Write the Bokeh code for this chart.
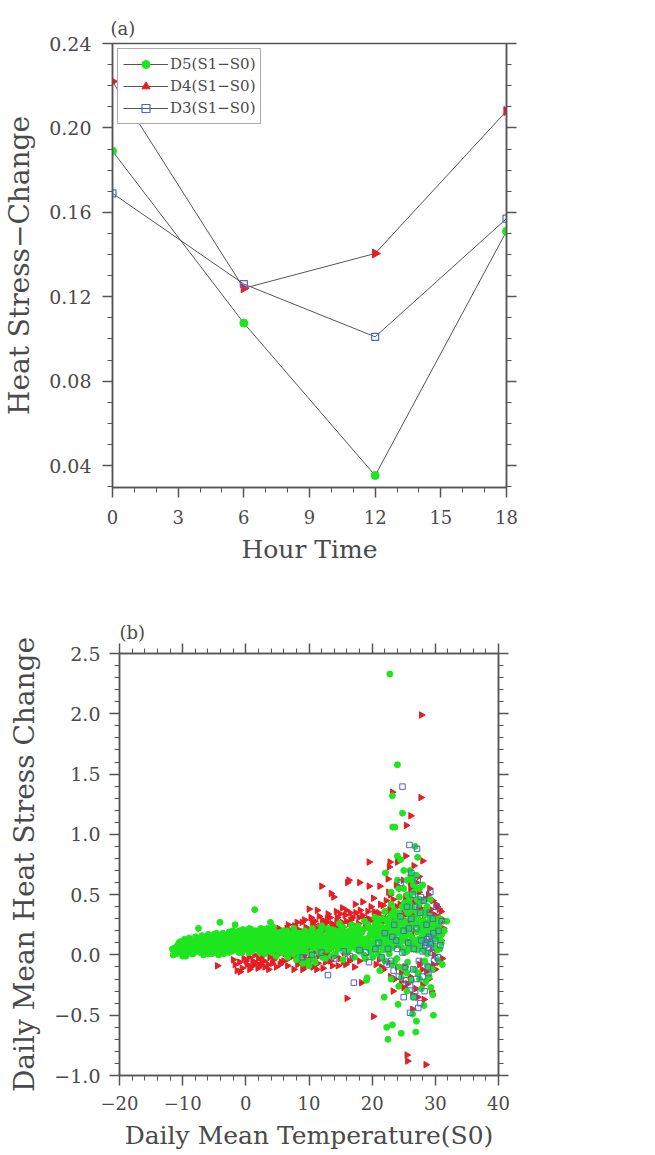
import numpy as np
from bokeh.plotting import figure
from bokeh.models import (FixedTicker, LinearAxis, Legend, LegendItem,
                          CustomJSTickFormatter, Range1d)
from bokeh.layouts import column, row
from bokeh.embed import file_html
from bokeh.resources import INLINE

FONT = "DejaVu Serif"
TXT = "#4a4a4a"
AX = "#555555"
GREEN = "#1ee61e"
RED = "#e61e24"
BLUE = "#4f63d6"

# ---------------- panel (a) data ----------------
hours = [0, 6, 12, 18]
d5_line = [0.189, 0.1075, 0.0353, 0.151]
d4_line = [0.222, 0.124, 0.1405, 0.208]
d3_line = [0.169, 0.126, 0.101, 0.157]

hour_ticks = [0, 3, 6, 9, 12, 15, 18]
hour_labels = ["0", "3", "6", "9", "12", "15", "18"]
hs_ticks = [0.04, 0.08, 0.12, 0.16, 0.20, 0.24]
hs_labels = ["0.04", "0.08", "0.12", "0.16", "0.20", "0.24"]

# ---------------- panel (b) data ----------------
temp_ticks = [-20, -10, 0, 10, 20, 30, 40]
temp_labels = ["\u221220", "\u221210", "0", "10", "20", "30", "40"]
chg_ticks = [-1.0, -0.5, 0.0, 0.5, 1.0, 1.5, 2.0, 2.5]
chg_labels = ["\u22121.0", "\u22120.5", "0.0", "0.5", "1.0", "1.5", "2.0", "2.5"]

d5_x = [
    -11.6, -11.4, -11.3, -10.8, -10.5, -10.2, -10.0, -9.8, -9.6, -9.3,
    -9.1, -8.9, -8.7, -8.5, -8.3, -8.1, -7.9, -7.7, -7.5, -7.4,
    -7.2, -7.0, -6.8, -6.6, -6.4, -6.2, -6.0, -5.8, -5.6, -5.4,
    -5.2, -5.0, -4.8, -4.6, -4.4, -4.2, -4.1, -4.0, -3.8, -3.6,
    -3.4, -3.2, -3.0, -2.8, -2.6, -2.4, -2.2, -2.0, -1.8, -1.7,
    -1.6, -1.4, -1.2, -1.0, -0.8, -0.6, -0.4, -0.2, 0.0, 0.2,
    0.4, 0.6, 0.8, 1.0, 1.2, 1.4, 1.5, 1.7, 1.9, 2.1,
    2.3, 2.5, 2.7, 2.9, 3.1, 3.3, 3.5, 3.7, 3.9, 4.0,
    4.2, 4.4, 4.6, 4.8, 5.0, 5.2, 5.4, 5.6, 5.8, 6.0,
    6.2, 6.4, 6.6, 6.8, 7.0, 7.2, 7.4, 7.6, 7.8, 8.0,
    8.2, 8.4, 8.6, 8.8, 9.0, 9.2, 9.4, 9.6, 9.8, 10.0,
    10.2, 10.4, 10.6, 10.8, 11.0, 11.2, 11.4, 11.6, 11.8, 12.0,
    12.2, 12.4, 12.6, 12.8, 13.0, 13.2, 13.4, 13.6, 13.8, 14.0,
    14.2, 14.4, 14.6, 14.8, 15.0, 15.2, 15.4, 15.6, 15.8, 16.0,
    16.2, 16.4, 16.6, 16.8, 17.0, 17.2, 17.4, 17.6, 17.8, 18.0,
    18.2, 18.4, 18.6, 18.8, 19.0, 19.1, 19.2, 19.4, 19.6, 19.8,
    20.0, 20.2, 20.4, 20.6, 20.8, 21.0, 21.2, 21.4, 21.6, 21.8,
    21.9, 22.0, 22.1, 22.2, 22.3, 22.4, 22.5, 22.6, 22.8, 22.9,
    23.0, 23.1, 23.2, 23.2, 23.3, 23.4, 23.25, 23.6, 23.6, 23.8,
    23.9, 24.0, 24.0, 24.1, 24.2, 24.2, 24.3, 24.4, 24.5, 24.6,
    24.6, 24.7, 24.8, 24.9, 25.0, 25.1, 25.2, 25.3, 25.4, 25.5,
    25.6, 25.7, 25.8, 25.9, 26.0, 26.1, 26.2, 26.3, 26.4, 26.5,
    26.6, 26.7, 26.8, 26.9, 27.0, 27.0, 27.1, 27.2, 27.3, 27.4,
    27.5, 27.6, 27.8, 27.9, 28.0, 28.1, 28.2, 28.3, 28.4, 28.6,
    28.8, 29.0, 29.2, 29.3, 29.4, 29.6, 29.7, 29.8, 30.0, 30.2,
    30.4, 30.6, 30.8, 31.1, 31.4, 31.8,
    -11.0, -10.6, -10.0, -9.5, -9.0, -8.6, -8.0, -7.6, -7.1, -6.7,
    -6.3, -5.9, -5.5, -5.1, -4.7, -4.3, -3.9, -3.5, -3.1, -2.7,
    -2.3, -1.9, -1.5, -1.1, -0.7, -0.3, 0.1, 0.5, 0.9, 1.3,
    1.8, 2.2, 2.6, 3.0, 3.4, 3.8, 4.3, 4.7, 5.1, 5.5,
    5.9, 6.3, 6.7, 7.1, 7.5, 7.9, 8.3, 8.7, 9.1, 9.5,
    9.9, 10.3, 10.7, 11.1, 11.5, 11.9, 12.3, 12.7, 13.1, 13.5,
    13.9, 14.3, 14.7, 15.1, 15.5, 15.9, 16.3, 16.7, 17.1, 17.5,
    17.9, 18.3, 18.7, 19.3, 19.7, 20.1, 20.5, 20.9, 21.3, 21.7,
    22.1, 22.5, 22.7, 23.1, 23.5, 23.9, 24.3, 24.7, 25.1, 25.5,
    25.9, 26.3, 26.7, 27.1, 27.5, 27.9, 28.3, 28.7, 29.1, 29.5,
    29.9, 30.3, 30.7, 31.0,
    -11.5, -11.2, -10.9, -10.7, -10.4, -10.1, -9.9, -9.7, -9.4, -9.2,
    -8.95, -8.8, -8.55, -8.4, -8.2, -7.95, -7.8, -7.55, -7.3, -7.15,
    -6.95, -6.75, -6.5, -6.35, -6.1, -5.95, -5.7, -5.45, -5.3, -5.05,
    -4.9, -4.65, -4.5, -4.25, -4.05, -3.85, -3.65, -3.45, -3.25, -3.05,
    -2.85, -2.65, -2.45, -2.25, -2.05, -1.85, -1.65, -1.45, -1.25, -1.05,
    -0.85, -0.65, -0.45, -0.25, -0.05, 0.15, 0.35, 0.55, 0.75, 0.95,
    1.15, 1.35, 1.55, 1.75, 1.95, 2.15, 2.35, 2.55, 2.75, 2.95,
    3.15, 3.35, 3.55, 3.75, 3.95, 4.15, 4.35, 4.55, 4.75, 4.95,
    5.15, 5.35, 5.55, 5.75, 5.95, 6.15, 6.35, 6.55, 6.75, 6.95,
    7.15, 7.35, 7.55, 7.75, 7.95, 8.15, 8.35, 8.55, 8.75, 8.95,
    9.15, 9.35, 9.55, 9.75, 9.95, 10.15, 10.35, 10.55, 10.75, 10.95,
    11.15, 11.35, 11.55, 11.75, 11.95, 12.15, 12.35, 12.55, 12.75, 12.95,
    13.15, 13.35, 13.55, 13.75, 13.95, 14.15, 14.35, 14.55, 14.75, 14.95,
    15.15, 15.35, 15.55, 15.75, 15.95, 16.15, 16.35, 16.55, 16.75, 16.95,
    17.15, 17.35, 17.55, 17.75, 17.95, 18.15, 18.35, 18.55, 18.75, 18.95,
    19.15, 19.35, 19.55, 19.75, 19.95, 20.15, 20.35, 20.55, 20.75, 20.95,
    21.15, 21.35, 21.55, 21.75, 21.95, 22.15, 22.35, 22.55, 22.75, 22.95,
    23.15, 23.35, 23.55, 23.75, 23.95, 24.15, 24.35, 24.55, 24.75, 24.95,
    25.15, 25.35, 25.55, 25.75, 25.95, 26.15, 26.35, 26.55, 26.75, 26.95,
    27.15, 27.35, 27.55, 27.75, 27.95, 28.15, 28.35, 28.55, 28.75, 28.95,
    29.15, 29.35, 29.55, 29.75, 29.95, 30.15, 30.35, 30.55, 30.75, 30.95,
    26.0, 26.4, 26.8, 27.2, 25.6, 24.2, 23.0,
    20.3, 20.7, 21.1, 21.5, 21.9, 22.3, 22.7, 23.1, 23.5, 23.9,
    24.3, 24.7, 25.1, 25.5, 25.9, 26.3, 26.7, 27.1, 27.5, 27.9,
    28.3, 28.7, 29.1, 29.5, 29.9, 30.3, 30.7, 24.0, 25.0, 26.0,
    27.0, 28.0, 29.0, 23.0, 22.0, 21.0, 25.5, 26.5, 27.5, 28.5,
]
d5_y = [
    0.05, 0.03, 0.02, 0.08, 0.06, 0.04, -0.01, 0.09, 0.05, 0.02,
    0.07, 0.03, 0.10, 0.05, 0.01, 0.08, 0.04, 0.12, 0.22, 0.06,
    0.02, 0.09, 0.05, 0.11, 0.03, 0.07, 0.13, 0.04, 0.09, 0.01,
    0.06, 0.12, 0.03, 0.08, 0.15, 0.05, 0.27, 0.10, 0.02, 0.07,
    0.13, 0.04, 0.09, 0.16, 0.06, 0.11, 0.03, 0.08, 0.14, 0.25,
    0.05, 0.10, 0.17, 0.07, 0.12, 0.02, 0.09, 0.15, 0.05, 0.11,
    0.18, 0.08, 0.13, 0.03, 0.10, 0.375, 0.16, 0.06, 0.12, 0.20,
    0.08, 0.14, 0.04, 0.10, 0.17, 0.07, 0.22, 0.12, 0.27, 0.05,
    0.15, 0.09, 0.19, -0.01, 0.11, 0.06, 0.16, 0.02, 0.10, 0.20,
    0.07, 0.13, -0.02, 0.09, 0.17, 0.04, 0.12, 0.22, 0.08, -0.04,
    0.14, 0.05, 0.10, 0.18, -0.07, 0.11, 0.03, 0.15, 0.08, -0.09,
    0.13, 0.20, 0.06, 0.11, -0.06, 0.16, 0.09, 0.02, 0.13, 0.24,
    0.07, 0.12, -0.03, 0.17, 0.10, 0.05, 0.14, 0.21, 0.08, 0.12,
    0.01, 0.16, 0.10, 0.26, 0.06, 0.13, -0.04, 0.18, 0.09, 0.14,
    0.03, 0.20, 0.11, 0.07, 0.16, -0.02, 0.12, 0.23, 0.08, 0.15,
    0.04, 0.19, 0.11, 0.28, 0.07, -0.21, -0.19, 0.14, 0.22, 0.02,
    0.17, 0.10, 0.31, 0.05, 0.19, 0.13, -0.13, 0.24, 0.08, 0.16,
    -0.35, 0.36, 0.68, 0.11, -0.60, 0.21, -0.70, 0.04, 2.33, 0.15,
    0.42, -0.08, -0.58, 1.32, 0.26, 0.09, 1.06, 0.18, 1.06, 0.33,
    -0.03, 0.82, 1.577, -0.41, 0.12, -0.26, 0.48, 0.21, 0.79, -0.65,
    -0.19, 0.06, 1.176, 0.29, 0.55, 0.14, -0.12, 0.38, 0.22, 0.62,
    -0.06, 0.09, 0.45, 0.17, 0.31, 0.66, -0.21, 0.05, -0.49, 0.26,
    0.52, 0.12, 0.90, -0.64, -0.55, 0.36, 0.19, 0.81, -0.15, 0.42,
    0.08, 0.28, -0.28, 0.15, 0.58, 0.22, -0.42, 0.03, 0.33, 0.11,
    -0.09, 0.25, 0.46, -0.27, 0.16, -0.33, -0.50, 0.07, 0.30, 0.19,
    -0.04, 0.24, 0.12, -0.08, 0.20, 0.28,
    0.01, 0.10, 0.07, -0.01, 0.12, 0.01, 0.13, 0.03, 0.14, 0.00,
    0.15, 0.01, 0.12, 0.02, 0.14, 0.00, 0.11, 0.01, 0.16, 0.02,
    0.17, 0.04, 0.18, 0.02, 0.19, 0.06, 0.20, 0.02, 0.21, 0.05,
    0.15, 0.02, 0.18, 0.01, 0.13, 0.03, 0.20, 0.07, 0.18, 0.09,
    0.14, 0.02, 0.17, 0.09, 0.01, 0.15, 0.02, 0.13, 0.16, 0.06,
    0.14, 0.01, 0.17, 0.10, 0.19, 0.04, 0.15, 0.09, 0.19, -0.01,
    0.16, 0.07, 0.13, 0.21, 0.11, 0.02, 0.17, 0.25, 0.10, 0.05,
    0.19, 0.13, 0.00, 0.09, 0.16, -0.02, 0.13, 0.27, 0.07, 0.20,
    0.14, 0.30, 0.01, 0.19, 0.37, 0.10, 0.27, 0.16, 0.43, 0.03,
    0.24, 0.14, 0.30, 0.04, 0.20, 0.35, 0.17, 0.26, 0.09, 0.21,
    0.13, 0.25, 0.05, 0.17,
    0.00, 0.06, 0.04, 0.02, 0.11, 0.08, 0.03, 0.13, 0.07, 0.10,
    0.14, 0.06, 0.12, 0.09, 0.03, 0.15, 0.07, 0.10, 0.12, 0.05,
    0.16, 0.08, 0.13, 0.06, 0.10, 0.17, 0.06, 0.14, 0.10, 0.17,
    0.09, 0.18, 0.05, 0.12, 0.16, 0.08, 0.18, 0.05, 0.12, 0.03,
    0.10, 0.19, 0.07, 0.13, 0.20, 0.10, 0.15, 0.07, 0.12, 0.20,
    0.05, 0.14, 0.21, 0.10, 0.16, 0.08, 0.14, 0.22, 0.05, 0.16,
    0.14, 0.08, 0.20, 0.10, 0.05, 0.13, 0.22, 0.06, 0.16, 0.21,
    0.04, 0.18, 0.09, 0.16, 0.12, 0.02, 0.23, 0.13, 0.16, 0.05,
    0.14, 0.03, 0.19, 0.06, 0.12, 0.16, 0.09, 0.20, 0.05, 0.13,
    0.02, 0.16, 0.10, 0.19, 0.06, 0.11, 0.18, -0.02, 0.08, 0.12,
    0.03, 0.20, 0.10, -0.05, 0.16, 0.09, 0.14, 0.22, -0.03, 0.08,
    0.13, 0.05, 0.17, 0.10, 0.21, -0.02, 0.09, 0.14, 0.04, 0.22,
    0.12, 0.18, 0.06, 0.15, 0.00, 0.20, 0.11, 0.05, 0.17, 0.14,
    0.08, 0.23, 0.14, 0.04, 0.19, 0.10, 0.14, 0.06, 0.20, 0.12,
    0.18, 0.06, 0.14, 0.24, 0.03, 0.17, 0.09, 0.21, 0.13, -0.03,
    0.12, 0.25, 0.05, 0.18, 0.10, 0.22, 0.07, 0.26, 0.15, 0.01,
    0.19, 0.11, 0.30, 0.04, 0.22, 0.16, 0.08, 0.25, 0.19, 0.32,
    0.06, 0.22, 0.13, 0.28, 0.18, 0.35, 0.08, 0.24, 0.40, 0.12,
    0.27, 0.18, 0.50, 0.06, 0.36, 0.22, 0.40, 0.58, 0.10, 0.25,
    0.31, 0.13, 0.46, 0.24, 0.05, 0.28, 0.19, 0.38, 0.01, 0.20,
    0.32, 0.11, 0.26, 0.18, 0.06, 0.22, 0.14, 0.29, 0.20, 0.10,
    0.70, 0.62, 0.66, 0.55, 0.35, 0.55, 0.52,
    0.20, 0.06, 0.24, -0.02, 0.12, 0.28, 0.10, 0.34, -0.06, 0.22,
    -0.10, 0.30, 0.02, -0.15, 0.42, 0.08, -0.12, 0.46, -0.20, 0.12,
    -0.05, 0.40, 0.28, -0.12, 0.22, 0.04, 0.30, 0.62, 0.70, 0.48,
    0.66, 0.45, -0.18, -0.20, -0.05, 0.30, -0.30, -0.35, 0.55, -0.22,
]

d4_x = [
    -4.5, -1.4, -0.9, -2.0, -1.0, -0.3, 0.2, 0.5, 0.8, 1.1,
    1.4, 1.7, 2.0, 2.3, 2.6, 2.9, 3.2, 3.5, 3.8, 4.1,
    4.4, 4.7, 5.0, 5.3, 5.6, 5.9, 6.2, 6.5, 6.8, 7.1,
    7.4, 7.7, 8.0, 8.3, 8.6, 8.9, 9.2, 9.5, 9.8, 10.0,
    10.1, 10.4, 10.7, 11.0, 11.3, 11.5, 11.8, 12.0, 12.1, 12.4,
    12.7, 13.0, 13.3, 13.5, 13.6, 13.9, 14.0, 14.2, 14.5, 14.8,
    15.0, 15.3, 15.6, 15.9, 16.0, 16.1, 16.2, 16.3, 16.5, 16.8,
    17.0, 17.3, 17.6, 17.9, 18.0, 18.2, 18.3, 18.5, 18.8, 19.0,
    19.3, 19.5, 19.5, 19.6, 19.9, 20.2, 20.2, 20.5, 20.8, 21.1,
    21.2, 21.4, 21.7, 22.0, 22.3, 22.5, 22.7, 22.8, 22.9, 23.0,
    23.2, 23.3, 23.5, 23.7, 24.0, 24.0, 24.2, 24.5, 24.7, 25.0,
    25.0, 25.3, 25.4, 25.5, 25.6, 25.6, 25.8, 26.0, 26.1, 26.2,
    26.4, 26.6, 26.6, 26.8, 27.0, 27.2, 27.4, 27.6, 27.7, 27.8,
    27.9, 28.0, 28.1, 28.2, 28.4, 28.5, 28.6, 28.8, 29.0, 29.1,
    29.3, 29.5, 29.7, 29.9, 30.1, 30.3, 30.5, 30.7, 30.9, 31.1,
    31.3, 10.9, 11.7, 12.9, 13.8, 14.3, 15.2, 15.7, 16.6, 17.5,
    18.1, 18.7, 19.8, 20.4, 21.0, 21.6, 22.2, 22.8, 23.6, 24.4,
    25.2, 25.9, 26.5, 27.3, 28.3, 29.2, 30.0, 30.8, 29.6, 28.9,
    27.0, 6.0, 7.0, 8.5, 9.5, 11.5, 13.0, 16.0, 18.0, 20.0,
    21.5, 8.2, 9.0, 9.8, 10.6, 11.4, 12.2, 13.4, 14.6, 15.4,
    6.3, 7.3, 8.1, 9.1, 10.3, 11.9, 12.5, 13.2, 14.6, 15.5,
    -1.7, -0.6, 0.0, 0.6, 1.2, 1.9, 2.5, 3.0, 3.6, 4.2,
    4.8, 5.4, 6.6, 7.6, 8.8, 9.3, 10.2, 11.2, 12.6, 13.7,
    14.9, 15.8, 16.4, 17.2,
    4.5, 5.2, 5.8, 6.7, 7.5, 8.4, 9.3, 9.9, 10.5, 11.1,
    11.6, 12.2, 12.8, 13.3, 13.9, 14.4, 14.9, 15.4, 15.9, 16.4,
    16.9, 17.4, 17.8, 18.4, 18.9, 19.4, 19.9, 20.3, 20.9, 21.3,
    21.8, 22.4, 22.9, 23.4, 23.9, 24.3, 24.8, 25.3, 25.7, 26.3,
    26.8, 27.3, 27.8, 28.2, 28.7, 29.2, 29.7, 30.2, 30.6, 31.0,
    20.6, 21.8, 22.6, 23.6, 24.6, 25.2, 26.0, 26.9, 27.5, 28.6,
    29.4, 30.0, 30.6, 28.0, 27.2,
    22.1, 22.6, 23.1, 23.8, 24.1, 24.9, 25.4, 26.1, 26.7, 27.4,
    28.1, 28.8, 29.5, 30.3, 30.9, 23.3, 24.6, 26.4, 27.9, 29.8,
]
d4_y = [
    -0.09, -0.13, -0.14, -0.04, -0.06, -0.03, -0.08, -0.02, -0.10, -0.05,
    0.00, -0.07, -0.03, -0.09, -0.01, -0.05, 0.02, -0.08, -0.02, 0.05,
    -0.04, 0.18, 0.00, 0.20, -0.06, 0.15, 0.01, 0.22, -0.03, 0.19,
    0.03, 0.24, -0.01, 0.21, 0.04, 0.27, 0.00, 0.23, 0.05, 0.38,
    0.18, -0.02, 0.25, 0.03, 0.37, 0.20, 0.06, 0.57, 0.29, 0.01,
    0.23, 0.34, 0.04, 0.51, 0.26, 0.48, 0.18, -0.01, 0.31, 0.07,
    0.22, 0.39, 0.02, 0.28, -0.36, 0.60, 0.17, 0.62, 0.35, -0.03,
    0.25, 0.42, 0.05, 0.31, 0.60, 0.19, -0.23, 0.44, 0.00, 0.27,
    0.36, 0.57, 0.77, 0.08, 0.22, -0.51, 0.47, 0.14, 0.33, -0.04,
    0.57, 0.26, 0.41, 0.10, 0.30, 0.63, 0.73, 0.77, -0.18, 0.20,
    1.35, 0.46, 0.07, 0.34, 0.77, -0.10, 0.24, 0.55, 0.13, -0.27,
    0.38, 0.82, 1.074, -0.83, -0.88, -0.24, 0.28, 0.60, 1.154, 0.16,
    -0.33, 0.74, 0.43, 0.05, 0.31, -0.15, 0.52, 0.21, 1.305, 1.99,
    -0.06, 0.78, 0.36, -0.37, 0.12, -0.91, 0.46, 0.26, -0.20, 0.55,
    0.15, 0.34, -0.08, 0.24, 0.42, 0.05, 0.30, 0.18, 0.36, -0.03,
    0.22, 0.28, 0.24, 0.30, 0.21, 0.36, 0.27, 0.33, 0.29, 0.22,
    0.37, 0.30, 0.40, 0.28, 0.35, 0.31, 0.45, 0.38, 0.28, 0.42,
    0.33, 0.47, 0.35, 0.40, 0.32, 0.38, 0.33, 0.27, 0.45, 0.50,
    0.60, -0.05, -0.02, -0.04, -0.03, -0.01, 0.00, 0.01, -0.05, 0.03,
    -0.10, -0.08, -0.12, -0.06, -0.10, -0.07, -0.11, -0.05, -0.09, -0.06,
    0.12, 0.16, 0.27, 0.19, 0.31, 0.15, 0.26, 0.20, 0.24, 0.16,
    -0.08, -0.11, -0.05, -0.12, -0.08, -0.11, -0.06, -0.10, -0.12, -0.07,
    -0.10, -0.08, -0.09, -0.12, -0.06, -0.10, -0.04, -0.12, -0.06, -0.09,
    -0.03, -0.08, -0.05, -0.10,
    0.14, 0.22, 0.18, 0.25, 0.20, 0.16, 0.29, 0.20, 0.27, 0.22,
    0.32, 0.20, 0.27, 0.31, 0.24, 0.28, 0.34, 0.23, 0.37, 0.26,
    0.31, 0.35, 0.26, 0.33, 0.22, 0.30, 0.29, 0.36, 0.24, 0.42,
    0.28, 0.36, 0.50, 0.30, 0.40, 0.34, 0.27, 0.48, 0.38, 0.26,
    0.44, 0.30, 0.38, 0.24, 0.36, 0.28, 0.31, 0.26, 0.38, 0.30,
    -0.08, -0.12, -0.06, -0.20, -0.15, -0.10, -0.18, -0.28, -0.08, -0.14,
    -0.30, -0.12, -0.06, -0.25, -0.35,
    0.15, 0.52, 0.08, 0.58, 0.18, 0.62, 0.12, 0.55, 0.20, 0.65,
    0.10, 0.18, 0.05, 0.40, 0.12, -0.30, -0.22, -0.45, -0.12, 0.00,
]

d3_x = [
    13.0, 17.1, 23.4, 25.3, 26.0, 27.3, 26.6, 24.8, 25.9, 27.1,
    26.2, 9.0, 10.5, 12.0, 14.0, 15.5, 16.5, 18.0, 19.0, 19.5,
    20.5, 21.0, 21.5, 22.0, 22.5, 23.0, 23.5, 23.8, 24.2, 24.5,
    24.8, 25.0, 25.2, 25.5, 25.7, 26.0, 26.2, 26.4, 26.6, 26.8,
    27.0, 27.2, 27.4, 27.6, 27.8, 28.0, 28.2, 28.4, 28.6, 28.8,
    29.0, 29.2, 29.4, 29.6, 29.8, 30.0, 30.2, 30.5, 30.8, 31.0,
    28.5, 29.0, 29.3, 28.7, 28.0,
    22.3, 23.2, 24.0, 25.0, 25.8, 26.5, 27.0, 27.7, 28.3, 29.1,
    29.7, 30.4, 24.5, 26.8, 27.6, 28.9,
]
d3_y = [
    -0.167, -0.23, -0.13, -0.21, -0.48, -0.44, -0.35, 1.396, 0.912, 0.88,
    0.68, -0.02, 0.00, 0.02, -0.03, 0.03, -0.01, 0.04, 0.02, -0.06,
    0.05, 0.10, -0.02, 0.18, 0.05, -0.05, 0.25, 0.12, -0.18, 0.32,
    0.02, 0.20, -0.10, 0.40, 0.10, -0.25, 0.30, 0.50, 0.05, -0.30,
    0.22, 0.62, -0.05, 0.35, 0.12, -0.18, 0.45, 0.08, 0.25, -0.10,
    0.15, 0.52, 0.02, 0.30, -0.05, 0.12, 0.40, 0.20, 0.08, 0.28,
    0.10, 0.06, 0.09, 0.13, 0.03,
    -0.08, 0.15, 0.05, -0.35, 0.22, -0.12, -0.20, 0.48, -0.30, 0.35,
    0.18, -0.02, 0.60, 0.40, -0.40, -0.15,
]

n5 = min(len(d5_x), len(d5_y))
n4 = min(len(d4_x), len(d4_y))
n3 = min(len(d3_x), len(d3_y))


def label_formatter(tick_values, tick_texts):
    return CustomJSTickFormatter(args=dict(tv=tick_values, lv=tick_texts), code="""
        let best = 0;
        for (let i = 0; i < tv.length; i++) {
            if (Math.abs(tv[i] - tick) < Math.abs(tv[best] - tick)) best = i;
        }
        return lv[best];
    """)


blank = CustomJSTickFormatter(code="return '';")


def style_axis(ax, label_size="18px", title_size="25px"):
    ax.axis_line_color = AX
    ax.axis_line_width = 1.5
    ax.major_tick_line_color = AX
    ax.major_tick_line_width = 1.5
    ax.minor_tick_line_color = AX
    ax.minor_tick_line_width = 1
    ax.major_tick_in = 0
    ax.major_tick_out = 10
    ax.minor_tick_in = 0
    ax.minor_tick_out = 5
    ax.major_label_text_font = FONT
    ax.major_label_text_font_size = label_size
    ax.major_label_text_color = TXT
    ax.axis_label_text_font = FONT
    ax.axis_label_text_font_size = title_size
    ax.axis_label_text_font_style = "normal"
    ax.axis_label_text_color = TXT


# ============ panel (a) ============
pa = figure(frame_width=394, frame_height=444,
            x_range=Range1d(0, 18), y_range=Range1d(0.0296, 0.24),
            output_backend="svg", toolbar_location=None,
            x_axis_location=None, y_axis_location=None,
            min_border_left=112, min_border_right=149,
            min_border_top=43, min_border_bottom=103)
pa.xgrid.visible = False
pa.ygrid.visible = False
pa.outline_line_color = AX
pa.outline_line_width = 1.5
pa.background_fill_color = "white"
pa.border_fill_color = "white"

xt_a = FixedTicker(ticks=hour_ticks, minor_ticks=list(range(0, 19)))
yt_a = FixedTicker(ticks=hs_ticks, minor_ticks=[round(0.03 + 0.01 * i, 2) for i in range(22)])

ax_b = LinearAxis(ticker=xt_a, formatter=label_formatter(hour_ticks, hour_labels),
                  axis_label="Hour Time")
style_axis(ax_b)
ax_b.major_label_standoff = 12
ax_b.axis_label_standoff = 8
pa.add_layout(ax_b, "below")

ax_l = LinearAxis(ticker=yt_a, formatter=label_formatter(hs_ticks, hs_labels),
                  axis_label="Heat Stress\u2212Change")
style_axis(ax_l, label_size="19px", title_size="28px")
ax_l.major_label_standoff = 11
ax_l.axis_label_standoff = 10
pa.add_layout(ax_l, "left")

ax_r = LinearAxis(ticker=yt_a, formatter=blank)
style_axis(ax_r)
ax_r.major_label_standoff = 0
pa.add_layout(ax_r, "right")

l5 = pa.line(hours, d5_line, line_color=AX, line_width=1)
s5 = pa.scatter(hours, d5_line, marker="circle", size=8, fill_color=GREEN, line_color=GREEN)
l4 = pa.line(hours, d4_line, line_color=AX, line_width=1)
s4 = pa.scatter(hours, d4_line, marker="triangle", size=9, angle=-np.pi / 2,
                fill_color=RED, line_color=RED)
l3 = pa.line(hours, d3_line, line_color=AX, line_width=1)
s3 = pa.scatter(hours, d3_line, marker="square", size=7, fill_color=None,
                line_color=BLUE, line_width=1.2)

leg = Legend(items=[
    LegendItem(label="D5(S1\u2212S0)", renderers=[l5, s5]),
    LegendItem(label="D4(S1\u2212S0)", renderers=[l4, s4]),
    LegendItem(label="D3(S1\u2212S0)", renderers=[l3, s3]),
], location="top_left")
leg.margin = 5
leg.padding = 5
leg.spacing = 2
leg.glyph_width = 45
leg.glyph_height = 20
leg.label_height = 20
leg.label_standoff = 2
leg.label_text_font = FONT
leg.label_text_font_size = "15px"
leg.label_text_color = TXT
leg.border_line_color = AX
leg.border_line_width = 1.5
leg.background_fill_color = "white"
leg.background_fill_alpha = 1.0
pa.add_layout(leg)

pa.title.text = "(a)"
pa.title.text_font = FONT
pa.title.text_font_size = "18px"
pa.title.text_font_style = "normal"
pa.title.text_color = TXT
pa.title.standoff = 10
pa.title.offset = -2

# ============ panel (b) ============
pb = figure(frame_width=379, frame_height=422,
            x_range=Range1d(-20, 40), y_range=Range1d(-1.0, 2.5),
            output_backend="svg", toolbar_location=None,
            x_axis_location=None, y_axis_location=None,
            min_border_left=119, min_border_right=157,
            min_border_top=63, min_border_bottom=80)
pb.xgrid.visible = False
pb.ygrid.visible = False
pb.outline_line_color = AX
pb.outline_line_width = 1.5
pb.background_fill_color = "white"
pb.border_fill_color = "white"

xt_b = FixedTicker(ticks=temp_ticks, minor_ticks=list(range(-20, 41, 2)))
yt_b = FixedTicker(ticks=chg_ticks, minor_ticks=[round(-1.0 + 0.1 * i, 1) for i in range(36)])

bx = LinearAxis(ticker=xt_b, formatter=label_formatter(temp_ticks, temp_labels),
                axis_label="Daily Mean Temperature(S0)")
style_axis(bx)
bx.major_label_standoff = 10
bx.axis_label_standoff = 8
pb.add_layout(bx, "below")

by = LinearAxis(ticker=yt_b, formatter=label_formatter(chg_ticks, chg_labels),
                axis_label="Daily Mean Heat Stress Change")
style_axis(by, label_size="19px", title_size="28px")
by.major_label_standoff = 9
by.axis_label_standoff = 10
pb.add_layout(by, "left")

bt = LinearAxis(ticker=xt_b, formatter=blank)
style_axis(bt)
bt.major_label_standoff = 0
pb.add_layout(bt, "above")

br = LinearAxis(ticker=yt_b, formatter=blank)
style_axis(br)
br.major_label_standoff = 0
pb.add_layout(br, "right")

pb.scatter(d4_x[:n4], d4_y[:n4], marker="triangle", size=6.5, angle=-np.pi / 2,
           fill_color=RED, line_color=RED)
pb.scatter(d5_x[:n5], d5_y[:n5], marker="circle", size=6, fill_color=GREEN, line_color=GREEN)
pb.scatter(d3_x[:n3], d3_y[:n3], marker="square", size=5.5, fill_color=None,
           line_color=BLUE, line_width=1)

pb.title.text = "(b)"
pb.title.text_font = FONT
pb.title.text_font_size = "18px"
pb.title.text_font_style = "normal"
pb.title.text_color = TXT
pb.title.standoff = 2
pb.title.offset = 0

layout = column(row(pa), row(pb), spacing=0)
open("out.html", "w").write(file_html(layout, INLINE))
